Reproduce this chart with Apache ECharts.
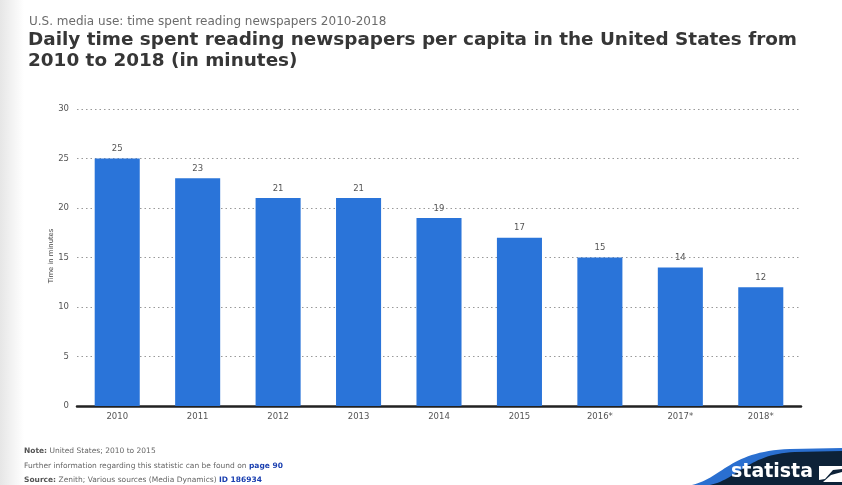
<!DOCTYPE html>
<html>
<head>
<meta charset="utf-8">
<script src="https://cdn.jsdelivr.net/npm/echarts@6/dist/echarts.min.js"></script>
<style>
html,body{margin:0;padding:0;background:#fff;}
#chart{width:842px;height:485px;}
</style>
</head>
<body>
<div id="chart"></div>
<script>
// Daily newspaper reading time per capita, U.S.
const years = ['2010', '2011', '2012', '2013', '2014', '2015', '2016*', '2017*', '2018*'];
const minutes = [25, 23, 21, 21, 19, 17, 15, 14, 12];
const yTicks = [0, 5, 10, 15, 20, 25, 30];
const yAxisTitle = 'Time in minutes';

const chart = echarts.init(document.getElementById('chart'));
const font = '"DejaVu Sans", Verdana, sans-serif';

// sample a cubic bezier into polygon points for the badge swoosh
function bez(p0, p1, p2, p3, n) {
  const pts = [];
  for (let i = 0; i <= n; i++) {
    const t = i / n, u = 1 - t;
    pts.push([
      u*u*u*p0[0] + 3*u*u*t*p1[0] + 3*u*t*t*p2[0] + t*t*t*p3[0],
      u*u*u*p0[1] + 3*u*u*t*p1[1] + 3*u*t*t*p2[1] + t*t*t*p3[1]
    ]);
  }
  return pts;
}
const blueEdge = bez([692, 485], [722, 478], [730, 451], [790, 449], 30).concat([[842, 448], [842, 485]]);
const navyFill = bez([710, 485], [738, 479], [748, 454], [795, 452], 30).concat([[842, 451], [842, 485]]);

chart.setOption({
  backgroundColor: '#ffffff',
  animation: false,
  title: [
    {
      text: 'U.S. media use: time spent reading newspapers 2010-2018',
      left: 24, top: 11,
      textStyle: { fontFamily: font, fontSize: 12, fontWeight: 'normal', color: '#6b6b6b' }
    },
    {
      text: 'Daily time spent reading newspapers per capita in the United States from\n2010 to 2018 (in minutes)',
      left: 23, top: 25,
      textStyle: { fontFamily: font, fontSize: 18.4, fontWeight: 'bold', color: '#363636', lineHeight: 21 }
    }
  ],
  grid: { left: 77, right: 41, top: 109, bottom: 79 },
  xAxis: {
    type: 'category',
    data: years,
    axisLine: { show: true, lineStyle: { color: '#222', width: 2.5 } },
    axisTick: { show: false },
    axisLabel: { fontFamily: font, fontSize: 8.5, color: '#555', margin: 6 }
  },
  yAxis: {
    type: 'value',
    min: yTicks[0],
    max: yTicks[yTicks.length - 1],
    interval: 5,
    axisLine: { show: false },
    axisTick: { show: false },
    axisLabel: { fontFamily: font, fontSize: 8.5, color: '#555', margin: 8 },
    splitLine: { show: true, lineStyle: { color: '#999', type: [1.5, 3], width: 1 } }
  },
  series: [{
    type: 'bar',
    data: minutes,
    barWidth: '56%',
    itemStyle: { color: '#2a74d9' },
    label: {
      show: true, position: 'top', distance: 5,
      fontFamily: font, fontSize: 8.5, color: '#555'
    }
  }],
  graphic: [
    // soft grey strip down the left edge
    {
      type: 'rect', left: 0, top: 0, z: -10,
      shape: { width: 24, height: 485 },
      style: {
        fill: new echarts.graphic.LinearGradient(0, 0, 1, 0, [
          { offset: 0, color: '#e6e6e6' },
          { offset: 0.6, color: '#f5f5f5' },
          { offset: 1, color: '#ffffff' }
        ])
      }
    },
    // vertical axis title
    {
      type: 'text', x: 51, y: 256, rotation: Math.PI / 2,
      style: {
        text: yAxisTitle, font: '6.8px ' + font, fill: '#444',
        align: 'center', verticalAlign: 'middle'
      }
    },
    // footer notes
    {
      type: 'text', x: 24, y: 447,
      style: {
        text: '{b|Note:} United States; 2010 to 2015',
        rich: { b: { fontWeight: 'bold', fontFamily: font, fontSize: 7.5, fill: '#555' } },
        font: '7.5px ' + font, fill: '#666'
      }
    },
    {
      type: 'text', x: 24, y: 462,
      style: {
        text: 'Further information regarding this statistic can be found on {l|page 90}',
        rich: { l: { fontFamily: font, fontSize: 7.5, fill: '#1a3fb0', fontWeight: 'bold', textDecoration: 'underline' } },
        font: '7.5px ' + font, fill: '#666'
      }
    },
    {
      type: 'text', x: 24, y: 476,
      style: {
        text: '{b|Source:} Zenith; Various sources (Media Dynamics) {l|ID 186934}',
        rich: {
          b: { fontWeight: 'bold', fontFamily: font, fontSize: 7.5, fill: '#555' },
          l: { fontFamily: font, fontSize: 7.5, fill: '#1a3fb0', fontWeight: 'bold' }
        },
        font: '7.5px ' + font, fill: '#666'
      }
    },
    // statista badge
    { type: 'polygon', z: 5, shape: { points: blueEdge }, style: { fill: '#2a6fd0' } },
    { type: 'polygon', z: 6, shape: { points: navyFill }, style: { fill: '#0d2238' } },
    {
      type: 'text', x: 731, y: 463, z: 7,
      style: { text: 'statista', font: 'bold 19px ' + font, fill: '#ffffff' }
    },
    {
      type: 'polygon', z: 7,
      shape: { points: [[819, 466], [842, 466], [842, 469], [833, 470], [825, 479], [819, 480]] },
      style: { fill: '#ffffff' }
    },
    {
      type: 'polygon', z: 7,
      shape: { points: [[823, 482], [831, 475], [842, 472], [842, 482]] },
      style: { fill: '#ffffff' }
    }
  ]
});
</script>
</body>
</html>
